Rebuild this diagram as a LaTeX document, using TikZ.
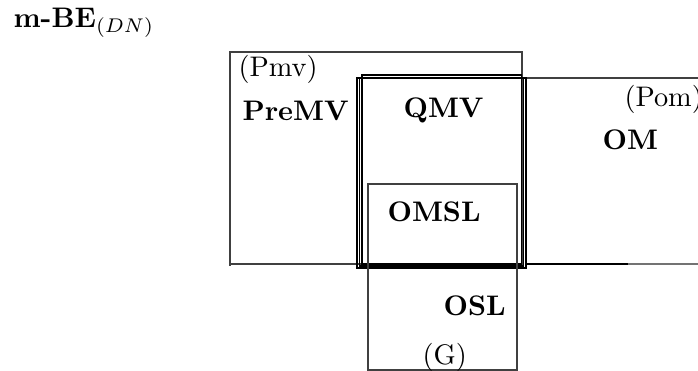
\documentclass[tikz,border=0pt]{standalone}
\begin{document}
\begin{tikzpicture}[x=0.35336pt,y=-0.35336pt,
  frame/.style={draw=black!75,line width=0.4pt},
  dframe/.style={draw=black,line width=0.4pt},
  lbl/.style={inner sep=0pt,anchor=base west,font=\bfseries},
  plbl/.style={inner sep=0pt,anchor=base west}]
\useasboundingbox (0,0) rectangle (698,371);
% Pmv box
\draw[frame] (230,52) rectangle (522,264);
\draw[frame] (230,264) -- (230,266);
% OM box
\draw[frame] (526,78) -- (720,78);
\draw[draw=black,line width=0.4pt] (526,264) -- (628,264);
\draw[draw=black!55,line width=0.4pt] (628,264) -- (720,264);
% QMV nested boxes
\draw[dframe] (357,78) rectangle (526,268);
\draw[dframe] (359.5,78) rectangle (523.5,266);
\draw[dframe] (362,75) rectangle (521.5,264);
% OMSL / OSL box
\draw[frame] (368,184) rectangle (517,370);
% labels
\node[lbl] (head) at (13,27) {m-BE$_{(DN)}$};
\node[plbl] (pmv) at (238,76) {(Pmv)};
\node[lbl] (premv) at (242,120.5) {PreMV};
\node[lbl] (qmv) at (403,117.5) {QMV};
\node[plbl] (pom) at (624,106) {(Pom)};
\node[lbl] (om) at (602,149) {OM};
\node[lbl] (omsl) at (387,221.5) {OMSL};
\node[lbl] (osl) at (443,315) {OSL};
\node[plbl] (g) at (422,364) {(G)};
\end{tikzpicture}
\end{document}
